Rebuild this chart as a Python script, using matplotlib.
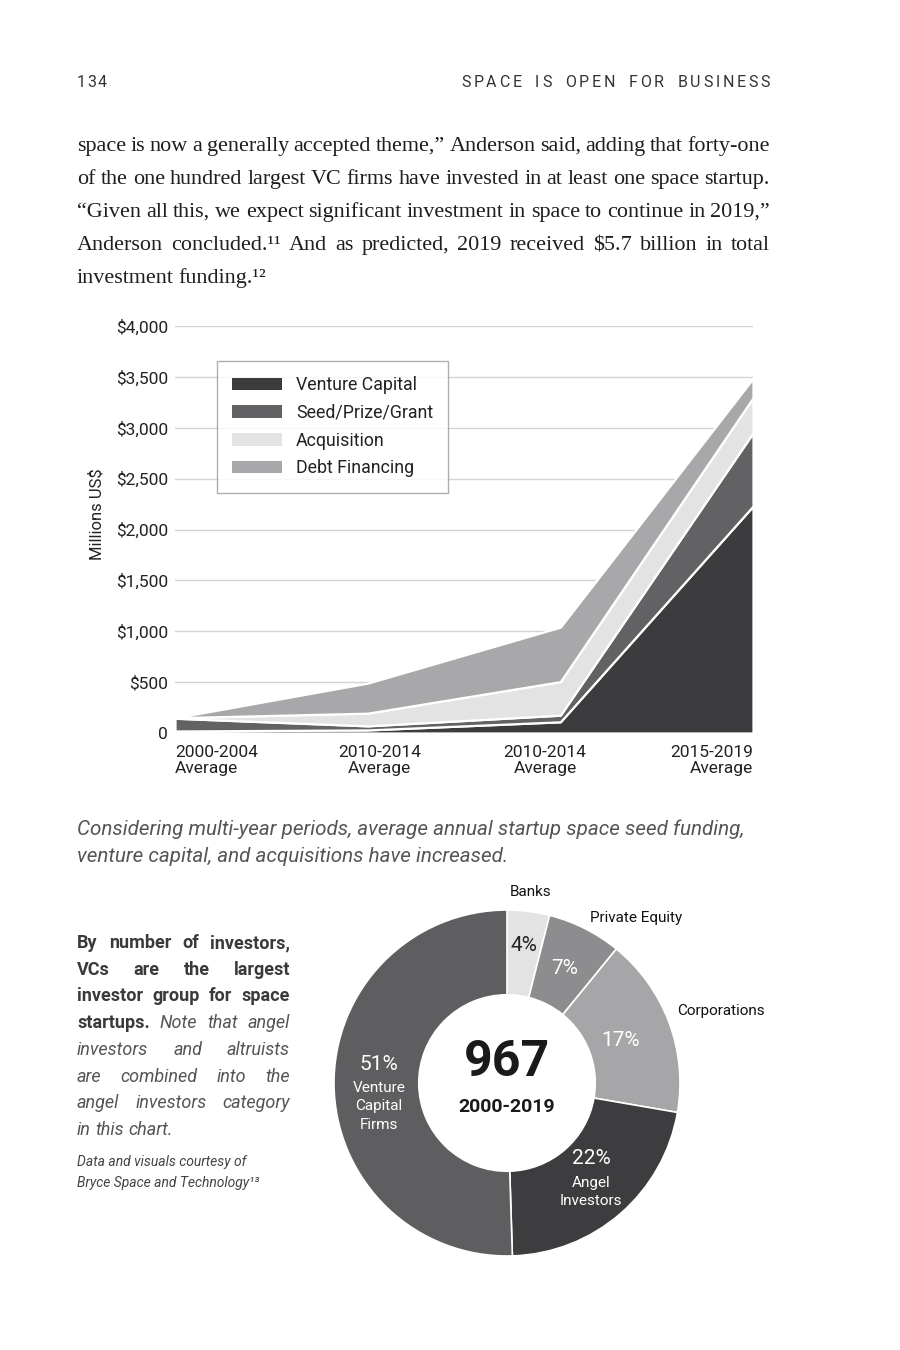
import matplotlib
matplotlib.use("Agg")
import matplotlib.pyplot as plt
import numpy as np

W, H = 900, 1350

# ---- area chart data (millions US$) ----
periods = ["2000-2004\nAverage", "2010-2014\nAverage", "2010-2014\nAverage", "2015-2019\nAverage"]
venture_capital = [20, 30, 110, 2230]
seed_prize_grant = [125, 40, 65, 720]
acquisition = [5, 125, 330, 345]
debt_financing = [0, 295, 535, 190]
series_names = ["Venture Capital", "Seed/Prize/Grant", "Acquisition", "Debt Financing"]
y_ticks = [0, 500, 1000, 1500, 2000, 2500, 3000, 3500, 4000]
y_tick_labels = ["0", "$500", "$1,000", "$1,500", "$2,000", "$2,500", "$3,000", "$3,500", "$4,000"]

# ---- donut data ----
investor_groups = ["Banks", "Private Equity", "Corporations", "Angel\nInvestors", "Venture\nCapital\nFirms"]
investor_share = [4, 7, 17, 22, 51]
investor_total = "967"
investor_years = "2000-2019"

# ---- page text ----
page_number = "134"
running_head = "SPACE IS OPEN FOR BUSINESS"
body_lines = [
    "space is now a generally accepted theme,\u201d Anderson said, adding that forty-one",
    "of the one hundred largest VC firms have invested in at least one space startup.",
    "\u201cGiven all this, we expect significant investment in space to continue in 2019,\u201d",
    "Anderson concluded.\u00b9\u00b9 And as predicted, 2019 received $5.7 billion in total",
    "investment funding.\u00b9\u00b2",
]
caption_lines = [
    "Considering multi-year periods, average annual startup space seed funding,",
    "venture capital, and acquisitions have increased.",
]
side_lines = [
    [("By number of investors,", "b")],
    [("VCs are the largest", "b")],
    [("investor group for space", "b")],
    [("startups.", "b"), ("Note that angel", "i")],
    [("investors and altruists", "i")],
    [("are combined into the", "i")],
    [("angel investors category", "i")],
    [("in this chart.", "i")],
]
credit_lines = ["Data and visuals courtesy of", "Bryce Space and Technology\u00b9\u00b3"]

SANS = "Roboto"
SERIF = "Liberation Serif"

fig = plt.figure(figsize=(W / 100, H / 100), dpi=100)
fig.patch.set_facecolor("white")
renderer = fig.canvas.get_renderer()


def put_words(words, x0, y, x1=None, gap=None, **kw):
    """Place words on a baseline; if x1 is given, stretch the gaps to fill x0..x1."""
    texts = []
    for word, props in words:
        texts.append(fig.text(0, 1 - y / H, word, va="baseline", **{**kw, **props}))
    widths = [t.get_window_extent(renderer).width for t in texts]
    if x1 is not None and len(texts) > 1:
        gap = (x1 - x0 - sum(widths)) / (len(texts) - 1)
    x = x0
    for t, w in zip(texts, widths):
        t.set_x(x / W)
        x += w + gap


def tracked(s, x0, x1, y, **kw):
    # letter-spaced caps: spread characters evenly between x0 and x1
    chars = [(c, {}) for c in s.replace(" ", "\u2002")]
    put_words(chars, x0, y, x1=x1, **kw)


# ---- header ----
tracked(page_number, 77, 107, 87, fontsize=11.5, family=SANS, color="#333333")
tracked(running_head, 461, 770, 87, fontsize=11.5, family=SANS, color="#333333")

# ---- body text (justified) ----
for i, line in enumerate(body_lines):
    words = [(w, {}) for w in line.split(" ")]
    last = i == len(body_lines) - 1
    put_words(words, 77, 151 + 33 * i, x1=None if last else 770, gap=4.5,
              fontsize=15.9, family=SERIF, color="#1e1e1e")

# ---- stacked area chart ----
ax = fig.add_axes([175 / W, 1 - 733 / H, 578 / W, 407 / H])
x = np.arange(len(periods))
colors = ["#3c3c3e", "#626264", "#e3e3e4", "#a8a8aa"]
ax.stackplot(x, venture_capital, seed_prize_grant, acquisition, debt_financing,
             colors=colors, labels=series_names, edgecolor="white", linewidth=1.6, zorder=3)
ax.set_xlim(0, len(periods) - 1)
ax.set_ylim(0, 4000)
ax.set_yticks(y_ticks)
ax.set_yticklabels(y_tick_labels, fontsize=12.5, family=SANS, color="#222222")
ax.tick_params(axis="y", length=0, pad=5)
ax.set_xticks([])
ax.grid(axis="y", color="#d4d4d4", linewidth=1, zorder=0)
for s in ax.spines.values():
    s.set_visible(False)

# x labels: outer ones flush with the plot edges, inner ones centred
label_x = [0, 1.06, 1.92, len(periods) - 1]
label_ha = ["left", "center", "center", "right"]
for lx, ha, lab in zip(label_x, label_ha, periods):
    ax.text(lx, -0.03, lab, transform=ax.get_xaxis_transform(), ha=ha, va="top",
            multialignment=ha, fontsize=12.5, family=SANS, color="#222222", linespacing=1.1)

fig.text(97 / W, 1 - 514 / H, "Millions US$", rotation=90, ha="center", va="center",
         fontsize=12, family=SANS, color="#222222")

leg = ax.legend(loc="upper left", bbox_to_anchor=(42 / 578, (733 - 361) / 407),
                prop={"family": SANS, "size": 12.8}, frameon=True, fancybox=False,
                handlelength=2.8, handleheight=0.7, handletextpad=0.8,
                labelspacing=0.55, borderpad=0.85, borderaxespad=0)
leg.get_frame().set_edgecolor("#9a9a9a")
leg.get_frame().set_linewidth(1.0)
for h in leg.legend_handles:
    h.set_edgecolor("none")
for t in leg.get_texts():
    t.set_color("#222222")

# ---- caption ----
for i, line in enumerate(caption_lines):
    fig.text(77 / W, 1 - (835 + 27 * i) / H, line, va="baseline", fontsize=14.85,
             family=SANS, style="italic", color="#555555")

# ---- side paragraph (justified) ----
styles = {"b": {"weight": "bold", "color": "#3a3a3a"},
          "i": {"style": "italic", "color": "#555555"}}
for i, segs in enumerate(side_lines):
    words = []
    for text, st in segs:
        words += [(w, styles[st]) for w in text.split(" ")]
    last = i == len(side_lines) - 1
    put_words(words, 77, 948 + 26.7 * i, x1=None if last else 290, gap=4.5,
              fontsize=13, family=SANS)

for i, line in enumerate(credit_lines):
    fig.text(77 / W, 1 - (1166 + 21 * i) / H, line, va="baseline", fontsize=10,
             family=SANS, style="italic", color="#444444")

# ---- donut ----
R = 173
dax = fig.add_axes([(507 - R) / W, 1 - (1083 + R) / H, 2 * R / W, 2 * R / H])
donut_colors = ["#e3e3e4", "#8d8d8f", "#a6a6a8", "#3d3d3f", "#5e5e60"]
wedges, _ = dax.pie(investor_share, colors=donut_colors, startangle=90, counterclock=False,
                    radius=1, wedgeprops=dict(width=0.49, edgecolor="white", linewidth=1.2))
dax.set_xlim(-1, 1)
dax.set_ylim(-1, 1)
dax.set_aspect("equal")
dax.axis("off")

pct_color = ["#222222", "white", "white", "white", "white"]
for i, w in enumerate(wedges):
    mid = np.deg2rad((w.theta1 + w.theta2) / 2)
    name = investor_groups[i]
    pct = f"{investor_share[i]}%"
    if "\n" in name:
        # percentage over the name, both inside the ring
        cx, cy = 0.74 * np.cos(mid), 0.74 * np.sin(mid)
        n = name.count("\n") + 1
        name_dy = -(9.5 * n - 7)
        dax.annotate(name, (cx, cy), xytext=(0, name_dy), textcoords="offset pixels",
                     ha="center", va="center", fontsize=11, family=SANS,
                     color="white", linespacing=1.38)
        dax.annotate(pct, (cx, cy), xytext=(0, name_dy + n * 9.25 + 14.5),
                     textcoords="offset pixels", ha="center", va="center",
                     fontsize=15, family=SANS, color="white")
    else:
        r_in = [0.80, 0.74, 0.70][i]
        dax.text(r_in * np.cos(mid), r_in * np.sin(mid), pct, ha="center", va="center",
                 fontsize=15, family=SANS, color=pct_color[i])
        if i == 0:
            dax.text(1.11 * np.cos(mid), 1.11 * np.sin(mid), name, ha="center",
                     va="center", fontsize=11, family=SANS, color="#111111")
        else:
            a = mid + np.deg2rad(2.5 if i == 2 else 0)
            dax.text(1.07 * np.cos(a), 1.07 * np.sin(a), name, ha="left",
                     va="center", fontsize=11, family=SANS, color="#111111")

dax.text(0, 0.12, investor_total, ha="center", va="center", fontsize=36,
         weight="bold", family=SANS, color="#1a1a1a")
dax.text(0, -0.14, investor_years, ha="center", va="center", fontsize=14,
         weight="bold", family=SANS, color="#1a1a1a")

fig.savefig("out.png", dpi=100, facecolor="white")
